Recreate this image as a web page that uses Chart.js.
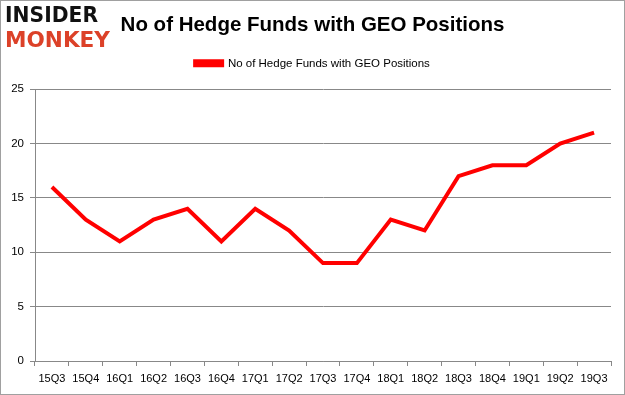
<!DOCTYPE html>
<html>
<head>
<meta charset="utf-8">
<script src="https://cdn.jsdelivr.net/npm/chart.js@4/dist/chart.umd.min.js"></script>
<style>
html,body{margin:0;padding:0;background:#fff;}
#wrap{position:relative;width:625px;height:395px;box-sizing:border-box;border:1px solid #a0a0a0;}
canvas{display:block;}
</style>
</head>
<body>
<div id="wrap"><canvas id="c" width="623" height="393"></canvas></div>
<script>
const categories = ["15Q3","15Q4","16Q1","16Q2","16Q3","16Q4","17Q1","17Q2","17Q3","17Q4","18Q1","18Q2","18Q3","18Q4","19Q1","19Q2","19Q3"];
const hedgeFunds = [16,13,11,13,14,11,14,12,9,9,13,12,17,18,18,20,21];
const yTicks = [0,5,10,15,20,25];
const seriesName = "No of Hedge Funds with GEO Positions";
const titleText = "No of Hedge Funds with GEO Positions";

const logoPlugin = {
  id: 'logo',
  beforeLayout(chart) {
    const lg = chart.legend;
    if (lg && !lg._patched) {
      const orig = lg.fit;
      lg.fit = function () { orig.call(this); this.height += 10; };
      lg._patched = true;
    }
  },
  afterLayout(chart) {
    if (chart.titleBlock) { chart.titleBlock.left = 0; chart.titleBlock.right = chart.width; }
    if (chart.legend) { chart.legend.left = 0; chart.legend.right = chart.width; chart.legend.width = chart.width; }
  },
  afterDraw(chart) {
    const ctx = chart.ctx;
    ctx.save();
    ctx.textBaseline = 'alphabetic';
    ctx.textAlign = 'left';
    ctx.font = 'bold 22px "DejaVu Sans"';
    ctx.fillStyle = '#111';
    ctx.fillText('INSIDER', 4, 21, 93);
    ctx.fillStyle = '#dc4128';
    ctx.fillText('MONKEY', 4, 46, 105);
    ctx.restore();
  }
};

new Chart(document.getElementById('c'), {
  type: 'line',
  data: {
    labels: categories,
    datasets: [{
      label: seriesName,
      data: hedgeFunds,
      borderColor: '#ff0000',
      backgroundColor: '#ff0000',
      borderWidth: 4,
      pointRadius: 0,
      tension: 0,
      fill: false
    }]
  },
  options: {
    responsive: false,
    animation: false,
    devicePixelRatio: 1,
    layout: { padding: { left: 0, right: 13, top: 0, bottom: 0 } },
    plugins: {
      title: {
        display: true,
        text: titleText,
        color: '#000',
        font: { family: '"Liberation Sans"', size: 20.5, weight: 'bold' },
        padding: { top: 12, bottom: 10 }
      },
      legend: {
        display: true,
        labels: {
          color: '#000',
          font: { family: '"Liberation Sans"', size: 11.5 },
          boxWidth: 27,
          boxHeight: 4,
          padding: 10
        }
      },
      tooltip: { enabled: false }
    },
    scales: {
      x: {
        offset: true,
        grid: { offset: true, drawOnChartArea: false, drawTicks: true, tickLength: 5, color: '#888' },
        border: { color: '#888' },
        ticks: { color: '#000', font: { family: '"Liberation Sans"', size: 11 }, maxRotation: 0, autoSkip: false, padding: 6 },
        afterFit(scale) { scale.height = 33; }
      },
      y: {
        min: 0, max: 25,
        afterBuildTicks(scale) { scale.ticks = yTicks.map(v => ({ value: v })); },
        grid: { color: '#888', tickLength: 5 },
        border: { color: '#888' },
        ticks: { color: '#000', font: { family: '"Liberation Sans"', size: 11.5 }, padding: 6 },
        afterFit(scale) { scale.width = 34; }
      }
    }
  },
  plugins: [logoPlugin]
});
</script>
</body>
</html>
